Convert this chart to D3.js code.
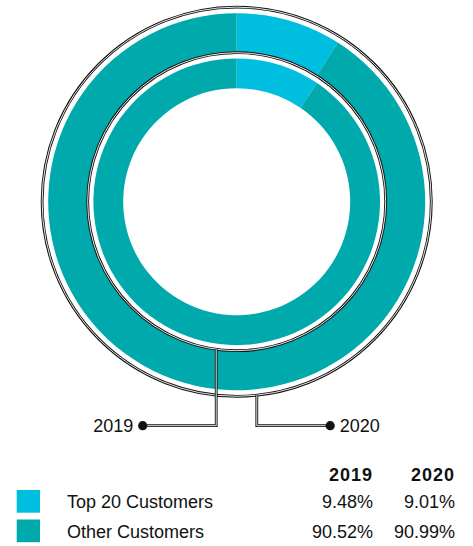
<!DOCTYPE html>
<html>
<head>
<meta charset="utf-8">
<script src="https://cdn.jsdelivr.net/npm/d3@7"></script>
<style>
  html, body { margin: 0; padding: 0; background: #fff; }
  svg { display: block; font-family: "Liberation Sans", Arial, sans-serif; }
</style>
</head>
<body>
<svg id="chart" width="473" height="546"></svg>
<script>
// Customer concentration, share of revenue by year
const categories = ["Top 20 Customers", "Other Customers"];
const years = ["2019", "2020"];
const values2019 = [9.48, 90.52];
const values2020 = [9.01, 90.99];
const colors = ["#00bee0", "#00a9ac"];

const svg = d3.select("#chart");
const cx = 236.7, cy = 201.7;

const color = d3.scaleOrdinal().domain(categories).range(colors);
const pie = d3.pie().sort(null).value(d => d.value).startAngle(0).endAngle(2 * Math.PI);

const rings = [
  { year: "2019", values: values2019, inner: 113.5, outer: 143.3, outline: 149 },
  { year: "2020", values: values2020, inner: 149, outer: 188.5, outline: 194.6 }
];

const g = svg.append("g").attr("transform", `translate(${cx},${cy})`);

// donut rings: 2019 inside, 2020 outside
rings.forEach(ring => {
  const arc = d3.arc().innerRadius(ring.inner).outerRadius(ring.outer);
  const data = categories.map((c, i) => ({ cat: c, value: ring.values[i] }));
  g.append("g").selectAll("path")
    .data(pie(data))
    .join("path")
    .attr("d", arc)
    .attr("fill", d => color(d.data.cat));
});

// double-rule outline circles
function doubleRule(sel) {
  sel.clone().attr("stroke", "#111").attr("stroke-width", 2.8);
  sel.attr("stroke", "#fff").attr("stroke-width", 0.9).raise();
}
rings.forEach(ring => {
  const c = g.append("circle").attr("r", ring.outline).attr("fill", "none");
  doubleRule(c);
});

// leader lines to the year labels
const leaderY = 425.7;
const leaders = [
  { year: "2019", ring: rings[0], x: 216.2, dotX: 142.7, side: -1 },
  { year: "2020", ring: rings[1], x: 256.8, dotX: 330.2, side: 1 }
];
leaders.forEach(l => {
  const dx = l.x - cx;
  const y0 = cy + Math.sqrt(l.ring.outline * l.ring.outline - dx * dx);
  const p = d3.path();
  p.moveTo(l.x, y0);
  p.lineTo(l.x, leaderY);
  p.lineTo(l.dotX, leaderY);
  const path = svg.append("path").attr("d", p.toString()).attr("fill", "none");
  doubleRule(path);
  svg.append("circle").attr("cx", l.dotX).attr("cy", leaderY).attr("r", 4.6).attr("fill", "#111");
  svg.append("text")
    .attr("x", l.dotX + l.side * 9.5)
    .attr("y", leaderY + 6.2)
    .attr("text-anchor", l.side < 0 ? "end" : "start")
    .attr("font-size", 18)
    .attr("fill", "#111")
    .text(l.year);
});

// legend table
const colX = [373, 455];
const headerY = 481;
const rowY = [508.3, 537.8];

svg.append("g").selectAll("text")
  .data(years)
  .join("text")
  .attr("x", (d, i) => colX[i])
  .attr("y", headerY)
  .attr("text-anchor", "end")
  .attr("font-size", 18)
  .attr("font-weight", "bold")
  .attr("letter-spacing", 1)
  .attr("fill", "#111")
  .text(d => d);

const rows = svg.append("g").selectAll("g")
  .data(categories)
  .join("g");

rows.append("rect")
  .attr("x", 16.7)
  .attr("y", (d, i) => rowY[i] - 18.3)
  .attr("width", 23.3)
  .attr("height", 22.7)
  .attr("fill", d => color(d));

rows.append("text")
  .attr("x", 67)
  .attr("y", (d, i) => rowY[i])
  .attr("font-size", 18)
  .attr("fill", "#111")
  .text(d => d);

const fmt = v => v.toFixed(2) + "%";
[values2019, values2020].forEach((vals, j) => {
  svg.append("g").selectAll("text")
    .data(vals)
    .join("text")
    .attr("x", colX[j])
    .attr("y", (d, i) => rowY[i])
    .attr("text-anchor", "end")
    .attr("font-size", 18)
    .attr("fill", "#111")
    .text(d => fmt(d));
});
</script>
</body>
</html>
